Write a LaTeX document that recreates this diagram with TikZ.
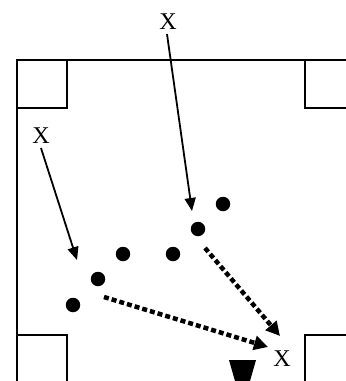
\documentclass[tikz,border=0pt]{standalone}
\usepackage{fontspec}
\setmainfont{Liberation Serif}
\usetikzlibrary{arrows.meta}
\begin{document}
\begin{tikzpicture}[x=1pt,y=-1pt,
  wall/.style={line width=1.8pt},
  lbl/.style={inner sep=0pt,font=\fontsize{24}{24}\selectfont},
  player/.style={circle,fill=black,minimum size=14.5pt,inner sep=0pt},
  pass/.style={line width=1.8pt,-{Triangle[length=13pt,width=11pt]}},
  run/.style={line width=4.5pt,dash pattern=on 5pt off 3pt,-{Triangle[length=14pt,width=14pt]}},
  cone/.style={fill=black}]
\useasboundingbox (0,0) rectangle (346,381);
% frame
\draw[wall] (17,381) -- (17,60) -- (346,60);
\draw[wall] (17,108) -- (67,108) -- (67,60);
\draw[wall] (346,108) -- (305,108) -- (305,60);
\draw[wall] (17,335) -- (67,335) -- (67,381);
\draw[wall] (346,335) -- (305,335) -- (305,381);
% labels
\node[lbl] (xtop) at (168,22) {X};
\node[lbl] (xleft) at (41,136) {X};
\node[lbl] (xbot) at (282,359) {X};
% players
\node[player] (d1) at (223,204) {};
\node[player] (d2) at (198,229) {};
\node[player] (d3) at (123,254) {};
\node[player] (d4) at (173,254) {};
\node[player] (d5) at (98,279) {};
\node[player] (d6) at (73,305) {};
% cone
\fill[cone] (229,360) -- (256,360) -- (250,381) -- (235,381) -- cycle;
% arrow ends
\coordinate (t1) at (192,211);
\coordinate (t2) at (77,260);
\coordinate (s3) at (205,248);
\coordinate (t3) at (280,336);
\coordinate (s4) at (104,297);
\coordinate (t4) at (268,347);
\draw[pass] (xtop.south) ++(-1,4) -- (t1);
\draw[pass] (xleft.south) ++(0,4) -- (t2);
\draw[run] (s3) -- (t3);
\draw[run] (s4) -- (t4);
\end{tikzpicture}
\end{document}
